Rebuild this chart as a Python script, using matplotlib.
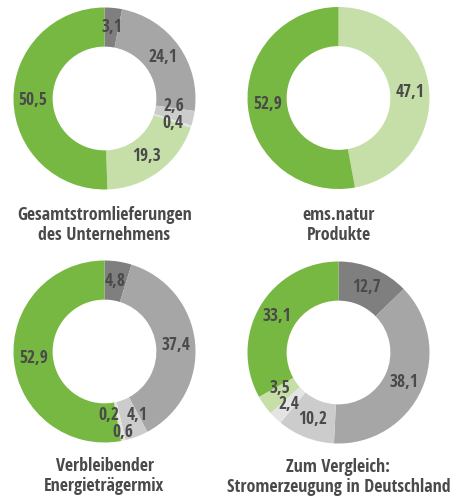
import numpy as np
import matplotlib
matplotlib.use("Agg")
import matplotlib.pyplot as plt
from matplotlib import font_manager

# Energy mix donuts (values in %), clockwise from 12 o'clock
colors = ["#7f7f7f", "#a6a6a6", "#cccccc", "#e4e4e4", "#c6dfa9", "#77b843"]

gesamt = [3.1, 24.1, 2.6, 0.4, 19.3, 50.5]
produkte = [0, 0, 0, 0, 47.1, 52.9]
verbleibend = [4.8, 37.4, 4.1, 0.6, 0.2, 52.9]
deutschland = [12.7, 38.1, 10.2, 2.4, 3.5, 33.1]

titles = ["Gesamtstromlieferungen\ndes Unternehmens",
          "ems.natur\nProdukte",
          "Verbleibender\nEnergieträgermix",
          "Zum Vergleich:\nStromerzeugung in Deutschland"]

# small nudges for labels of tiny slices (chart index, slice index) -> (dx, dy)
nudges = {(0, 2): (0.0, 0.09), (0, 3): (0.0, -0.03),
          (2, 2): (0.08, 0.04), (2, 3): (0.04, -0.12), (2, 4): (-0.1, 0.07),
          (3, 4): (0.0, 0.07)}

names = set(f.name for f in font_manager.fontManager.ttflist)
font = "DejaVu Sans"
for cand in ["Open Sans Condensed", "Roboto Condensed", "Noto Sans Condensed",
             "Barlow Semi Condensed", "Asap Condensed", "Liberation Sans Narrow"]:
    if cand in names:
        font = cand
        break
plt.rcParams["font.family"] = [font, "DejaVu Sans"]
txt = "#4a4a4a"

W, H = 453, 498
fig = plt.figure(figsize=(W / 100, H / 100), dpi=100)

centers = [(104.5, 98.5), (338.5, 98.0), (104.5, 351.5), (338.5, 352.5)]
title_y = [225, 225, 476, 477]
R = 91
width = 0.43

for k, vals in enumerate([gesamt, produkte, verbleibend, deutschland]):
    cx, cy = centers[k]
    ax = fig.add_axes([(cx - R) / W, (H - cy - R) / H, 2 * R / W, 2 * R / H])
    ax.pie(vals, colors=colors, startangle=90, counterclock=False,
           radius=1, wedgeprops=dict(width=width, linewidth=0))
    ax.set_xlim(-1, 1)
    ax.set_ylim(-1, 1)
    ax.axis("off")

    total = sum(vals)
    cum = 0
    rmid = 1 - width / 2
    for i, v in enumerate(vals):
        if v == 0:
            continue
        ang = np.deg2rad(90 - (cum + v / 2) / total * 360)
        cum += v
        dx, dy = nudges.get((k, i), (0, 0))
        ax.text(rmid * np.cos(ang) + dx, rmid * np.sin(ang) + dy,
                f"{v:.1f}".replace(".", ","), ha="center", va="center",
                fontsize=12.5, fontweight="bold", color=txt)

    fig.text(cx / W, 1 - title_y[k] / H, titles[k], ha="center", va="center",
             fontsize=13, fontweight="bold", color=txt, linespacing=1.2)

fig.savefig("out.png", dpi=100)
